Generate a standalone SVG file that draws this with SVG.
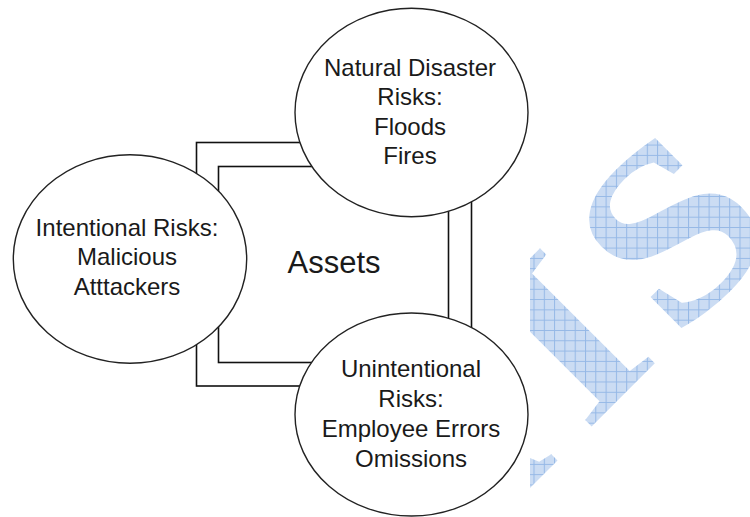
<svg xmlns="http://www.w3.org/2000/svg" width="750" height="517" viewBox="0 0 750 517">
  <defs>
    <style>
      .frame { fill: none; stroke: #111; stroke-width: 1.6; }
      .risk { fill: #fff; stroke: #222; stroke-width: 1.4; }
      .lbl { font-family: "Liberation Sans", Arial, sans-serif; font-size: 24px; fill: #1a1a1a; text-anchor: middle; }
      .core { font-family: "Liberation Sans", Arial, sans-serif; font-size: 31px; fill: #1a1a1a; text-anchor: middle; }
      .mark { font-family: "Liberation Serif", "Times New Roman", serif; font-weight: bold; font-size: 248px; fill: url(#grid); }
    </style>
    <!-- light blue mesh for the watermark letters; the transform undoes the
         letters' rotation and stretch so the mesh stays square to the page -->
    <pattern id="grid" patternUnits="userSpaceOnUse" width="10.3" height="10.3"
             patternTransform="scale(0.892857,1) rotate(45)">
      <rect width="10.3" height="10.3" fill="#cbdcf3"/>
      <path d="M0 0.5H10.3M0.5 0V10.3" stroke="#95b8e6" stroke-width="1"/>
    </pattern>
    <clipPath id="markClip">
      <rect x="530" y="0" width="220" height="517"/>
    </clipPath>
  </defs>

  <rect width="750" height="517" fill="#fff"/>

  <!-- diagonal watermark -->
  <g id="watermark" clip-path="url(#markClip)">
    <text class="mark" transform="translate(585,433) rotate(-45) scale(1.12,1)" x="-212 0 114">AIS</text>
  </g>

  <!-- double border of the asset block -->
  <g id="connectors">
    <rect class="frame" x="196.5" y="142.5" width="275" height="243.5"/>
    <rect class="frame" x="218.5" y="166.5" width="230" height="196"/>
  </g>

  <g id="assets">
    <text class="core" x="334" y="273">Assets</text>
  </g>

  <g id="intentional">
    <ellipse class="risk" cx="130" cy="259" rx="116.7" ry="104.2"/>
    <text class="lbl" x="127" y="236">Intentional Risks:</text>
    <text class="lbl" x="127" y="265">Malicious</text>
    <text class="lbl" x="127" y="295">Atttackers</text>
  </g>

  <g id="natural">
    <ellipse class="risk" cx="411.5" cy="112.5" rx="116.5" ry="104.2"/>
    <text class="lbl" x="410" y="76">Natural Disaster</text>
    <text class="lbl" x="410" y="105">Risks:</text>
    <text class="lbl" x="410" y="134.5">Floods</text>
    <text class="lbl" x="410" y="164">Fires</text>
  </g>

  <g id="unintentional">
    <ellipse class="risk" cx="411.5" cy="414.5" rx="116.5" ry="101.5"/>
    <text class="lbl" x="411" y="377">Unintentional</text>
    <text class="lbl" x="411" y="407">Risks:</text>
    <text class="lbl" x="411" y="437">Employee Errors</text>
    <text class="lbl" x="411" y="467">Omissions</text>
  </g>
</svg>
